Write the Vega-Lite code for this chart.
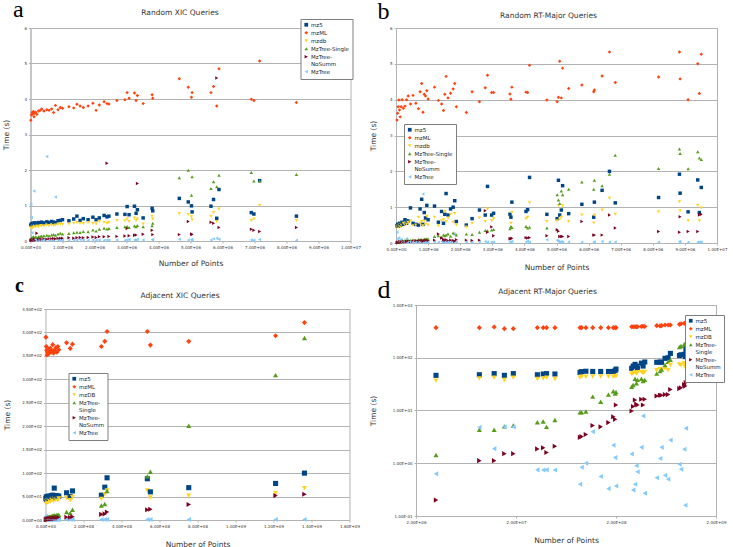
{
 "$schema": "https://vega.github.io/schema/vega-lite/v6.json",
 "background": "white",
 "padding": {"left": 1.5, "top": -4, "right": 0, "bottom": 0},
 "config": {
  "font": "DejaVu Sans",
  "view": {"stroke": "#b3b3b3", "strokeWidth": 1},
  "axis": {"labelFontSize": 4, "labelColor": "#333333", "titleFontSize": 7.5, "titleFontWeight": "normal", "titleColor": "#333333", "domainColor": "#b3b3b3", "tickColor": "#b3b3b3", "tickSize": 2, "gridColor": "#b3b3b3", "labelPadding": 2, "labelOverlap": false, "labelFlush": false},
  "legend": {"fillColor": "white", "strokeColor": "#7f7f7f", "padding": 3, "labelFontSize": 5.5, "labelColor": "#222222", "symbolSize": 14, "rowPadding": 1, "labelOffset": 2, "symbolStrokeWidth": 0, "cornerRadius": 0}
 },
 "datasets": {
  "a": [
   {"x":0.01e6,"mz5":0.45,"mzML":3.40,"mzdb":0.38,"MzTree-Single":0.05,"MzTree-NoSumm":0.02,"MzTree":1.03},
   {"x":0.03e6,"mz5":0.48,"mzML":3.55,"mzdb":0.40,"MzTree-Single":0.08,"MzTree-NoSumm":0.03,"MzTree":0.66},
   {"x":0.05e6,"mz5":0.46,"mzML":3.62,"mzdb":0.36,"MzTree-Single":0.10,"MzTree-NoSumm":0.02,"MzTree":0.23},
   {"x":0.07e6,"mz5":0.50,"mzML":3.58,"mzdb":0.42,"MzTree-Single":0.06,"MzTree-NoSumm":0.04,"MzTree":0.05},
   {"x":0.09e6,"mz5":0.47,"mzML":3.65,"mzdb":0.39,"MzTree-Single":0.12,"MzTree-NoSumm":0.03,"MzTree":0.03},
   {"x":0.11e6,"mz5":0.49,"mzML":3.50,"mzdb":0.41,"MzTree-Single":0.07,"MzTree-NoSumm":0.02,"MzTree":1.41},
   {"x":0.13e6,"mz5":0.51,"mzML":3.60,"mzdb":0.43,"MzTree-Single":0.09,"MzTree-NoSumm":0.05,"MzTree":0.02},
   {"x":0.16e6,"mz5":0.48,"mzML":3.63,"mzdb":0.40,"MzTree-Single":0.11,"MzTree-NoSumm":0.03,"MzTree":0.04},
   {"x":0.20e6,"mz5":0.50,"mzML":3.57,"mzdb":0.42,"MzTree-Single":0.10,"MzTree-NoSumm":0.22,"MzTree":0.03},
   {"x":0.25e6,"mz5":0.52,"mzML":3.66,"mzdb":0.41,"MzTree-Single":0.12,"MzTree-NoSumm":0.04,"MzTree":0.02},
   {"x":0.30e6,"mz5":0.50,"mzML":3.68,"mzdb":0.43,"MzTree-Single":0.13,"MzTree-NoSumm":0.05,"MzTree":0.03},
   {"x":0.35e6,"mz5":0.53,"mzML":3.72,"mzdb":0.44,"MzTree-Single":0.14,"MzTree-NoSumm":0.04,"MzTree":0.02},
   {"x":0.42e6,"mz5":0.51,"mzML":3.66,"mzdb":0.42,"MzTree-Single":0.15,"MzTree-NoSumm":0.06,"MzTree":0.03},
   {"x":0.51e6,"mz5":0.54,"mzML":3.70,"mzdb":0.45,"MzTree-Single":0.16,"MzTree-NoSumm":0.05,"MzTree":2.38},
   {"x":0.58e6,"mz5":0.52,"mzML":3.68,"mzdb":0.43,"MzTree-Single":0.15,"MzTree-NoSumm":0.06,"MzTree":0.02},
   {"x":0.66e6,"mz5":0.55,"mzML":3.72,"mzdb":0.46,"MzTree-Single":0.17,"MzTree-NoSumm":0.06,"MzTree":0.03},
   {"x":0.72e6,"mz5":0.53,"mzML":3.62,"mzdb":0.44,"MzTree-Single":0.18,"MzTree-NoSumm":0.07,"MzTree":0.02},
   {"x":0.78e6,"mz5":0.52,"mzML":3.82,"mzdb":0.45,"MzTree-Single":0.16,"MzTree-NoSumm":0.06,"MzTree":1.24},
   {"x":0.86e6,"mz5":0.57,"mzML":3.70,"mzdb":0.47,"MzTree-Single":0.20,"MzTree-NoSumm":0.07,"MzTree":0.03},
   {"x":0.93e6,"mz5":0.58,"mzML":3.76,"mzdb":0.48,"MzTree-Single":0.22,"MzTree-NoSumm":0.08,"MzTree":0.02},
   {"x":1.00e6,"mz5":0.60,"mzML":3.74,"mzdb":0.47,"MzTree-Single":0.20,"MzTree-NoSumm":0.08,"MzTree":0.03},
   {"x":1.20e6,"mz5":0.57,"mzML":3.78,"mzdb":0.48,"MzTree-Single":0.21,"MzTree-NoSumm":0.09,"MzTree":0.02},
   {"x":1.35e6,"mz5":0.62,"mzML":3.75,"mzdb":0.50,"MzTree-Single":0.23,"MzTree-NoSumm":0.08,"MzTree":0.03},
   {"x":1.45e6,"mz5":0.70,"mzML":3.85,"mzdb":0.52,"MzTree-Single":0.25,"MzTree-NoSumm":0.09,"MzTree":0.02},
   {"x":1.55e6,"mz5":0.58,"mzML":3.80,"mzdb":0.50,"MzTree-Single":0.24,"MzTree-NoSumm":0.10,"MzTree":0.04},
   {"x":1.65e6,"mz5":0.63,"mzML":3.76,"mzdb":0.49,"MzTree-Single":0.27,"MzTree-NoSumm":0.09,"MzTree":0.03},
   {"x":1.80e6,"mz5":0.60,"mzML":3.80,"mzdb":0.52,"MzTree-Single":0.26,"MzTree-NoSumm":0.10,"MzTree":0.02},
   {"x":1.95e6,"mz5":0.67,"mzML":3.88,"mzdb":0.50,"MzTree-Single":0.31,"MzTree-NoSumm":0.11,"MzTree":0.03},
   {"x":2.05e6,"mz5":0.60,"mzML":3.68,"mzdb":0.48,"MzTree-Single":0.28,"MzTree-NoSumm":0.10,"MzTree":0.02},
   {"x":2.15e6,"mz5":0.65,"mzML":3.83,"mzdb":0.55,"MzTree-Single":0.33,"MzTree-NoSumm":0.12,"MzTree":0.03},
   {"x":2.30e6,"mz5":0.72,"mzML":3.92,"mzdb":0.53,"MzTree-Single":0.36,"MzTree-NoSumm":0.12,"MzTree":0.02},
   {"x":2.39e6,"mz5":0.68,"mzML":3.87,"mzdb":0.50,"MzTree-Single":0.34,"MzTree-NoSumm":2.19,"MzTree":0.03},
   {"x":2.45e6,"mz5":0.70,"mzML":3.86,"mzdb":0.52,"MzTree-Single":0.35,"MzTree-NoSumm":0.13,"MzTree":0.02},
   {"x":2.70e6,"mz5":0.76,"mzML":3.96,"mzdb":0.58,"MzTree-Single":0.38,"MzTree-NoSumm":0.13,"MzTree":0.03},
   {"x":2.95e6,"mz5":0.75,"mzML":3.98,"mzdb":0.57,"MzTree-Single":0.40,"MzTree-NoSumm":0.14,"MzTree":0.02},
   {"x":3.02e6,"mz5":0.97,"mzML":4.18,"mzdb":0.62,"MzTree-Single":0.41,"MzTree-NoSumm":0.35,"MzTree":0.03},
   {"x":3.08e6,"mz5":0.74,"mzML":4.02,"mzdb":0.55,"MzTree-Single":0.38,"MzTree-NoSumm":0.15,"MzTree":0.04},
   {"x":3.25e6,"mz5":0.98,"mzML":4.17,"mzdb":0.65,"MzTree-Single":0.42,"MzTree-NoSumm":0.16,"MzTree":0.03},
   {"x":3.30e6,"mz5":0.78,"mzML":3.96,"mzdb":0.58,"MzTree-Single":0.40,"MzTree-NoSumm":0.17,"MzTree":0.02},
   {"x":3.34e6,"mz5":0.88,"mzML":4.10,"mzdb":0.62,"MzTree-Single":0.44,"MzTree-NoSumm":1.62,"MzTree":0.05},
   {"x":3.52e6,"mz5":0.65,"mzML":3.87,"mzdb":0.48,"MzTree-Single":0.40,"MzTree-NoSumm":0.19,"MzTree":0.03},
   {"x":3.80e6,"mz5":0.92,"mzML":4.12,"mzdb":0.70,"MzTree-Single":0.43,"MzTree-NoSumm":0.30,"MzTree":0.04},
   {"x":3.82e6,"mz5":0.85,"mzML":4.02,"mzdb":0.62,"MzTree-Single":0.50,"MzTree-NoSumm":0.18,"MzTree":0.03},
   {"x":4.65e6,"mz5":1.20,"mzML":4.57,"mzdb":0.77,"MzTree-Single":1.78,"MzTree-NoSumm":0.18,"MzTree":0.05},
   {"x":4.93e6,"mz5":1.10,"mzML":4.33,"mzdb":0.75,"MzTree-Single":1.99,"MzTree-NoSumm":0.55,"MzTree":0.03},
   {"x":5.03e6,"mz5":0.99,"mzML":4.05,"mzdb":0.68,"MzTree-Single":1.29,"MzTree-NoSumm":0.20,"MzTree":0.04},
   {"x":5.05e6,"mz5":0.82,"mzML":4.18,"mzdb":0.60,"MzTree-Single":1.81,"MzTree-NoSumm":0.18,"MzTree":0.02},
   {"x":5.64e6,"mz5":0.98,"mzML":4.18,"mzdb":0.70,"MzTree-Single":1.48,"MzTree-NoSumm":0.53,"MzTree":0.03},
   {"x":5.72e6,"mz5":1.17,"mzML":4.35,"mzdb":0.80,"MzTree-Single":1.67,"MzTree-NoSumm":0.50,"MzTree":0.06},
   {"x":5.82e6,"mz5":0.64,"mzML":3.80,"mzdb":0.55,"MzTree-Single":1.53,"MzTree-NoSumm":4.59,"MzTree":0.08},
   {"x":5.89e6,"mz5":1.45,"mzML":4.85,"mzdb":0.90,"MzTree-Single":1.85,"MzTree-NoSumm":0.38,"MzTree":0.05},
   {"x":6.90e6,"mz5":0.80,"mzML":3.99,"mzdb":0.58,"MzTree-Single":1.93,"MzTree-NoSumm":0.33,"MzTree":0.03},
   {"x":6.98e6,"mz5":0.76,"mzML":3.96,"mzdb":0.62,"MzTree-Single":1.69,"MzTree-NoSumm":0.30,"MzTree":0.02},
   {"x":7.16e6,"mz5":1.70,"mzML":5.07,"mzdb":1.00,"MzTree-Single":1.69,"MzTree-NoSumm":0.27,"MzTree":0.04},
   {"x":8.31e6,"mz5":0.70,"mzML":3.90,"mzdb":0.58,"MzTree-Single":1.87,"MzTree-NoSumm":0.38,"MzTree":0.02}
  ],
  "b": [
   {"x":0.03e6,"mz5":0.48,"mzML":3.43,"mzdb":0.45,"MzTree-Single":0.02,"MzTree-NoSumm":0.01,"MzTree":0.30},
   {"x":0.05e6,"mz5":0.52,"mzML":3.62,"mzdb":0.47,"MzTree-Single":0.03,"MzTree-NoSumm":0.02,"MzTree":0.12},
   {"x":0.07e6,"mz5":0.47,"mzML":3.80,"mzdb":0.44,"MzTree-Single":0.02,"MzTree-NoSumm":0.01,"MzTree":0.05},
   {"x":0.09e6,"mz5":0.50,"mzML":3.99,"mzdb":0.48,"MzTree-Single":0.04,"MzTree-NoSumm":0.02,"MzTree":0.15},
   {"x":0.11e6,"mz5":0.55,"mzML":3.71,"mzdb":0.50,"MzTree-Single":0.03,"MzTree-NoSumm":0.03,"MzTree":0.03},
   {"x":0.13e6,"mz5":0.49,"mzML":3.52,"mzdb":0.46,"MzTree-Single":0.05,"MzTree-NoSumm":0.02,"MzTree":0.04},
   {"x":0.16e6,"mz5":0.53,"mzML":3.80,"mzdb":0.52,"MzTree-Single":0.04,"MzTree-NoSumm":0.03,"MzTree":0.10},
   {"x":0.19e6,"mz5":0.58,"mzML":4.00,"mzdb":0.48,"MzTree-Single":0.06,"MzTree-NoSumm":0.02,"MzTree":0.02},
   {"x":0.23e6,"mz5":0.52,"mzML":3.76,"mzdb":0.55,"MzTree-Single":0.05,"MzTree-NoSumm":0.04,"MzTree":0.05},
   {"x":0.28e6,"mz5":0.65,"mzML":3.82,"mzdb":0.50,"MzTree-Single":0.07,"MzTree-NoSumm":0.03,"MzTree":0.03},
   {"x":0.33e6,"mz5":0.55,"mzML":4.00,"mzdb":0.53,"MzTree-Single":0.06,"MzTree-NoSumm":0.04,"MzTree":0.12},
   {"x":0.38e6,"mz5":0.62,"mzML":4.10,"mzdb":0.58,"MzTree-Single":0.08,"MzTree-NoSumm":0.05,"MzTree":0.02},
   {"x":0.45e6,"mz5":0.98,"mzML":3.88,"mzdb":0.62,"MzTree-Single":0.07,"MzTree-NoSumm":0.04,"MzTree":0.04},
   {"x":0.53e6,"mz5":0.55,"mzML":4.12,"mzdb":0.48,"MzTree-Single":0.09,"MzTree-NoSumm":0.05,"MzTree":0.03},
   {"x":0.62e6,"mz5":0.52,"mzML":3.90,"mzdb":0.50,"MzTree-Single":0.08,"MzTree-NoSumm":0.06,"MzTree":0.02},
   {"x":0.70e6,"mz5":0.50,"mzML":3.75,"mzdb":0.72,"MzTree-Single":0.10,"MzTree-NoSumm":0.05,"MzTree":0.03},
   {"x":0.75e6,"mz5":0.95,"mzML":4.22,"mzdb":0.55,"MzTree-Single":0.09,"MzTree-NoSumm":0.06,"MzTree":0.04},
   {"x":0.80e6,"mz5":1.22,"mzML":4.45,"mzdb":0.60,"MzTree-Single":0.10,"MzTree-NoSumm":0.07,"MzTree":0.03},
   {"x":0.84e6,"mz5":0.52,"mzML":3.65,"mzdb":0.48,"MzTree-Single":0.08,"MzTree-NoSumm":0.05,"MzTree":1.37},
   {"x":0.88e6,"mz5":0.85,"mzML":4.15,"mzdb":0.62,"MzTree-Single":0.11,"MzTree-NoSumm":0.06,"MzTree":0.02},
   {"x":0.92e6,"mz5":0.70,"mzML":4.10,"mzdb":0.52,"MzTree-Single":0.10,"MzTree-NoSumm":0.07,"MzTree":0.03},
   {"x":0.96e6,"mz5":1.05,"mzML":4.25,"mzdb":0.75,"MzTree-Single":0.12,"MzTree-NoSumm":0.08,"MzTree":0.04},
   {"x":1.00e6,"mz5":0.65,"mzML":4.02,"mzdb":0.50,"MzTree-Single":0.11,"MzTree-NoSumm":0.06,"MzTree":0.02},
   {"x":1.20e6,"mz5":1.03,"mzML":4.35,"mzdb":0.72,"MzTree-Single":0.18,"MzTree-NoSumm":0.08,"MzTree":0.03},
   {"x":1.32e6,"mz5":0.58,"mzML":3.98,"mzdb":0.48,"MzTree-Single":0.20,"MzTree-NoSumm":0.25,"MzTree":0.02},
   {"x":1.42e6,"mz5":0.88,"mzML":3.88,"mzdb":0.62,"MzTree-Single":0.16,"MzTree-NoSumm":0.14,"MzTree":0.04},
   {"x":1.48e6,"mz5":0.55,"mzML":3.70,"mzdb":0.65,"MzTree-Single":0.22,"MzTree-NoSumm":0.10,"MzTree":0.03},
   {"x":1.52e6,"mz5":0.80,"mzML":4.15,"mzdb":0.88,"MzTree-Single":0.20,"MzTree-NoSumm":0.07,"MzTree":0.02},
   {"x":1.56e6,"mz5":1.38,"mzML":4.65,"mzdb":0.60,"MzTree-Single":0.22,"MzTree-NoSumm":0.09,"MzTree":0.04},
   {"x":1.62e6,"mz5":0.78,"mzML":4.05,"mzdb":0.70,"MzTree-Single":0.25,"MzTree-NoSumm":0.06,"MzTree":0.03},
   {"x":1.70e6,"mz5":0.95,"mzML":4.18,"mzdb":0.80,"MzTree-Single":0.19,"MzTree-NoSumm":0.08,"MzTree":0.02},
   {"x":1.78e6,"mz5":1.00,"mzML":4.30,"mzdb":0.58,"MzTree-Single":0.28,"MzTree-NoSumm":0.07,"MzTree":0.03},
   {"x":1.83e6,"mz5":1.18,"mzML":4.45,"mzdb":0.82,"MzTree-Single":0.26,"MzTree-NoSumm":0.05,"MzTree":0.25},
   {"x":1.88e6,"mz5":0.60,"mzML":3.80,"mzdb":0.50,"MzTree-Single":0.22,"MzTree-NoSumm":0.09,"MzTree":0.02},
   {"x":2.19e6,"mz5":0.50,"mzML":3.64,"mzdb":0.45,"MzTree-Single":0.25,"MzTree-NoSumm":0.08,"MzTree":0.03},
   {"x":2.37e6,"mz5":0.68,"mzML":4.22,"mzdb":0.55,"MzTree-Single":0.24,"MzTree-NoSumm":0.07,"MzTree":0.02},
   {"x":2.60e6,"mz5":0.92,"mzML":3.94,"mzdb":0.70,"MzTree-Single":0.30,"MzTree-NoSumm":0.08,"MzTree":0.03},
   {"x":2.78e6,"mz5":0.78,"mzML":4.33,"mzdb":0.60,"MzTree-Single":0.35,"MzTree-NoSumm":0.90,"MzTree":0.04},
   {"x":2.85e6,"mz5":1.58,"mzML":4.68,"mzdb":0.95,"MzTree-Single":0.34,"MzTree-NoSumm":0.30,"MzTree":0.02},
   {"x":2.98e6,"mz5":0.78,"mzML":4.20,"mzdb":0.62,"MzTree-Single":0.36,"MzTree-NoSumm":0.45,"MzTree":0.03},
   {"x":3.04e6,"mz5":0.83,"mzML":4.20,"mzdb":0.68,"MzTree-Single":0.38,"MzTree-NoSumm":0.20,"MzTree":0.02},
   {"x":3.55e6,"mz5":0.80,"mzML":4.16,"mzdb":0.72,"MzTree-Single":0.40,"MzTree-NoSumm":0.12,"MzTree":0.03},
   {"x":3.58e6,"mz5":0.72,"mzML":4.01,"mzdb":0.55,"MzTree-Single":0.46,"MzTree-NoSumm":0.12,"MzTree":0.02},
   {"x":3.61e6,"mz5":1.14,"mzML":4.35,"mzdb":0.85,"MzTree-Single":0.43,"MzTree-NoSumm":0.13,"MzTree":0.04},
   {"x":4.05e6,"mz5":0.88,"mzML":4.21,"mzdb":0.68,"MzTree-Single":0.46,"MzTree-NoSumm":0.15,"MzTree":0.03},
   {"x":4.10e6,"mz5":0.93,"mzML":4.20,"mzdb":0.72,"MzTree-Single":0.42,"MzTree-NoSumm":0.14,"MzTree":0.05},
   {"x":4.16e6,"mz5":1.83,"mzML":4.96,"mzdb":1.12,"MzTree-Single":0.44,"MzTree-NoSumm":0.15,"MzTree":0.02},
   {"x":4.70e6,"mz5":0.80,"mzML":3.99,"mzdb":0.60,"MzTree-Single":0.42,"MzTree-NoSumm":0.20,"MzTree":0.09},
   {"x":5.02e6,"mz5":0.68,"mzML":3.94,"mzdb":0.62,"MzTree-Single":1.35,"MzTree-NoSumm":0.37,"MzTree":0.08},
   {"x":5.06e6,"mz5":1.75,"mzML":4.07,"mzdb":1.05,"MzTree-Single":1.20,"MzTree-NoSumm":0.33,"MzTree":0.05},
   {"x":5.10e6,"mz5":0.78,"mzML":5.07,"mzdb":0.66,"MzTree-Single":1.10,"MzTree-NoSumm":0.18,"MzTree":0.02},
   {"x":5.15e6,"mz5":0.92,"mzML":4.05,"mzdb":0.72,"MzTree-Single":1.45,"MzTree-NoSumm":0.18,"MzTree":0.04},
   {"x":5.19e6,"mz5":1.60,"mzML":4.88,"mzdb":1.04,"MzTree-Single":1.35,"MzTree-NoSumm":0.18,"MzTree":0.02},
   {"x":5.38e6,"mz5":0.82,"mzML":4.31,"mzdb":0.60,"MzTree-Single":1.50,"MzTree-NoSumm":0.18,"MzTree":0.03},
   {"x":5.79e6,"mz5":1.08,"mzML":4.41,"mzdb":0.78,"MzTree-Single":1.70,"MzTree-NoSumm":0.60,"MzTree":0.02},
   {"x":6.16e6,"mz5":0.72,"mzML":4.22,"mzdb":0.56,"MzTree-Single":1.50,"MzTree-NoSumm":0.22,"MzTree":0.03},
   {"x":6.18e6,"mz5":1.14,"mzML":4.27,"mzdb":0.78,"MzTree-Single":1.75,"MzTree-NoSumm":0.22,"MzTree":0.02},
   {"x":6.42e6,"mz5":1.47,"mzML":4.66,"mzdb":0.92,"MzTree-Single":1.60,"MzTree-NoSumm":0.22,"MzTree":0.04},
   {"x":6.65e6,"mz5":2.00,"mzML":5.33,"mzdb":1.25,"MzTree-Single":1.92,"MzTree-NoSumm":0.78,"MzTree":0.02},
   {"x":6.83e6,"mz5":1.12,"mzML":4.48,"mzdb":0.80,"MzTree-Single":2.45,"MzTree-NoSumm":0.42,"MzTree":0.03},
   {"x":8.18e6,"mz5":1.27,"mzML":4.63,"mzdb":0.87,"MzTree-Single":2.08,"MzTree-NoSumm":0.32,"MzTree":0.02},
   {"x":8.83e6,"mz5":1.92,"mzML":5.33,"mzdb":1.15,"MzTree-Single":2.62,"MzTree-NoSumm":0.30,"MzTree":0.04},
   {"x":8.85e6,"mz5":1.39,"mzML":4.58,"mzdb":0.90,"MzTree-Single":2.50,"MzTree-NoSumm":0.73,"MzTree":0.02},
   {"x":9.10e6,"mz5":0.87,"mzML":4.00,"mzdb":0.62,"MzTree-Single":2.07,"MzTree-NoSumm":0.32,"MzTree":0.02},
   {"x":9.40e6,"mz5":1.76,"mzML":5.00,"mzdb":1.05,"MzTree-Single":2.55,"MzTree-NoSumm":0.32,"MzTree":0.03},
   {"x":9.45e6,"mz5":0.85,"mzML":4.17,"mzdb":0.62,"MzTree-Single":2.37,"MzTree-NoSumm":0.78,"MzTree":0.02},
   {"x":9.51e6,"mz5":1.55,"mzML":5.27,"mzdb":0.98,"MzTree-Single":2.33,"MzTree-NoSumm":0.80,"MzTree":0.03}
  ],
  "c": [
   {"x":0.02e8,"mz5":46,"mzML":390,"mzDB":36,"MzTree-Single":2,"MzTree-NoSumm":1,"MzTree":8},
   {"x":0.04e8,"mz5":49,"mzML":370,"mzDB":38,"MzTree-Single":3,"MzTree-NoSumm":1,"MzTree":1},
   {"x":0.06e8,"mz5":44,"mzML":362,"mzDB":40,"MzTree-Single":4,"MzTree-NoSumm":2,"MzTree":5},
   {"x":0.08e8,"mz5":50,"mzML":352,"mzDB":41,"MzTree-Single":3,"MzTree-NoSumm":1,"MzTree":1},
   {"x":0.10e8,"mz5":47,"mzML":358,"mzDB":37,"MzTree-Single":5,"MzTree-NoSumm":2,"MzTree":1},
   {"x":0.12e8,"mz5":48,"mzML":365,"mzDB":42,"MzTree-Single":4,"MzTree-NoSumm":2,"MzTree":2},
   {"x":0.15e8,"mz5":51,"mzML":360,"mzDB":39,"MzTree-Single":6,"MzTree-NoSumm":2,"MzTree":1},
   {"x":0.18e8,"mz5":46,"mzML":355,"mzDB":43,"MzTree-Single":5,"MzTree-NoSumm":3,"MzTree":1},
   {"x":0.22e8,"mz5":50,"mzML":362,"mzDB":41,"MzTree-Single":7,"MzTree-NoSumm":2,"MzTree":1},
   {"x":0.26e8,"mz5":49,"mzML":366,"mzDB":40,"MzTree-Single":6,"MzTree-NoSumm":3,"MzTree":1},
   {"x":0.30e8,"mz5":52,"mzML":360,"mzDB":44,"MzTree-Single":8,"MzTree-NoSumm":3,"MzTree":1},
   {"x":0.34e8,"mz5":48,"mzML":358,"mzDB":42,"MzTree-Single":7,"MzTree-NoSumm":3,"MzTree":1},
   {"x":0.38e8,"mz5":53,"mzML":374,"mzDB":45,"MzTree-Single":9,"MzTree-NoSumm":4,"MzTree":1},
   {"x":0.42e8,"mz5":50,"mzML":356,"mzDB":41,"MzTree-Single":8,"MzTree-NoSumm":3,"MzTree":1},
   {"x":0.46e8,"mz5":68,"mzML":362,"mzDB":46,"MzTree-Single":10,"MzTree-NoSumm":4,"MzTree":1},
   {"x":0.50e8,"mz5":51,"mzML":360,"mzDB":43,"MzTree-Single":9,"MzTree-NoSumm":4,"MzTree":1},
   {"x":0.55e8,"mz5":49,"mzML":368,"mzDB":44,"MzTree-Single":8,"MzTree-NoSumm":4,"MzTree":1},
   {"x":0.60e8,"mz5":52,"mzML":358,"mzDB":45,"MzTree-Single":11,"MzTree-NoSumm":5,"MzTree":1},
   {"x":0.65e8,"mz5":50,"mzML":370,"mzDB":42,"MzTree-Single":10,"MzTree-NoSumm":4,"MzTree":1},
   {"x":0.70e8,"mz5":51,"mzML":363,"mzDB":46,"MzTree-Single":11,"MzTree-NoSumm":5,"MzTree":1},
   {"x":1.11e8,"mz5":58,"mzML":378,"mzDB":47,"MzTree-Single":17,"MzTree-NoSumm":6,"MzTree":1},
   {"x":1.30e8,"mz5":50,"mzML":366,"mzDB":42,"MzTree-Single":15,"MzTree-NoSumm":5,"MzTree":1},
   {"x":1.42e8,"mz5":62,"mzML":375,"mzDB":49,"MzTree-Single":22,"MzTree-NoSumm":7,"MzTree":1},
   {"x":2.94e8,"mz5":53,"mzML":370,"mzDB":45,"MzTree-Single":31,"MzTree-NoSumm":12,"MzTree":1},
   {"x":3.12e8,"mz5":70,"mzML":381,"mzDB":55,"MzTree-Single":34,"MzTree-NoSumm":13,"MzTree":1},
   {"x":3.24e8,"mz5":90,"mzML":402,"mzDB":63,"MzTree-Single":62,"MzTree-NoSumm":17,"MzTree":1},
   {"x":5.36e8,"mz5":88,"mzML":402,"mzDB":63,"MzTree-Single":93,"MzTree-NoSumm":22,"MzTree":1},
   {"x":5.52e8,"mz5":60,"mzML":373,"mzDB":48,"MzTree-Single":103,"MzTree-NoSumm":23,"MzTree":1},
   {"x":7.54e8,"mz5":69,"mzML":381,"mzDB":52,"MzTree-Single":201,"MzTree-NoSumm":33,"MzTree":1},
   {"x":12.11e8,"mz5":78,"mzML":393,"mzDB":57,"MzTree-Single":309,"MzTree-NoSumm":52,"MzTree":1},
   {"x":13.63e8,"mz5":100,"mzML":421,"mzDB":68,"MzTree-Single":388,"MzTree-NoSumm":55,"MzTree":1}
  ],
  "d": [
   {"x":3.17e6,"mz5":46.4,"mzML":372,"mzDB":36.8,"MzTree-Single":1.43,"MzTree-NoSumm":0.20,"MzTree":0.63},
   {"x":8.6e6,"mz5":47.6,"mzML":372,"mzDB":40.6,"MzTree-Single":4.33,"MzTree-NoSumm":1.12,"MzTree":4.8},
   {"x":12.1e6,"mz5":50,"mzML":383,"mzDB":42,"MzTree-Single":4.33,"MzTree-NoSumm":1.12,"MzTree":1.89},
   {"x":15.3e6,"mz5":46.4,"mzML":356,"mzDB":37.9,"MzTree-Single":5.0,"MzTree-NoSumm":1.52,"MzTree":4.9},
   {"x":18.8e6,"mz5":50,"mzML":356,"mzDB":42,"MzTree-Single":5.18,"MzTree-NoSumm":1.52,"MzTree":4.9},
   {"x":32.7e6,"mz5":47.6,"mzML":372,"mzDB":39.5,"MzTree-Single":6.0,"MzTree-NoSumm":1.87,"MzTree":0.75},
   {"x":37.4e6,"mz5":49.2,"mzML":372,"mzDB":40.6,"MzTree-Single":6.2,"MzTree-NoSumm":1.96,"MzTree":0.745},
   {"x":40.4e6,"mz5":50,"mzML":372,"mzDB":42,"MzTree-Single":4.9,"MzTree-NoSumm":1.6,"MzTree":0.75},
   {"x":49e6,"mz5":49.2,"mzML":372,"mzDB":39.5,"MzTree-Single":6.6,"MzTree-NoSumm":2.1,"MzTree":0.745},
   {"x":87.3e6,"mz5":52.9,"mzML":372,"mzDB":42,"MzTree-Single":9.2,"MzTree-NoSumm":3.1,"MzTree":0.4},
   {"x":90.6e6,"mz5":54.6,"mzML":372,"mzDB":43.8,"MzTree-Single":9.2,"MzTree-NoSumm":3.2,"MzTree":0.84},
   {"x":100e6,"mz5":55.5,"mzML":372,"mzDB":43.5,"MzTree-Single":9.6,"MzTree-NoSumm":3.5,"MzTree":1.0},
   {"x":117e6,"mz5":55,"mzML":372,"mzDB":44,"MzTree-Single":18.3,"MzTree-NoSumm":5.18,"MzTree":3.97},
   {"x":140.6e6,"mz5":55,"mzML":372,"mzDB":44,"MzTree-Single":14.6,"MzTree-NoSumm":4.9,"MzTree":0.56},
   {"x":168e6,"mz5":55,"mzML":372,"mzDB":44,"MzTree-Single":20,"MzTree-NoSumm":5.9,"MzTree":0.33},
   {"x":188e6,"mz5":55,"mzML":372,"mzDB":43.5,"MzTree-Single":23.2,"MzTree-NoSumm":7.6,"MzTree":2.2},
   {"x":196e6,"mz5":57,"mzML":372,"mzDB":44.5,"MzTree-Single":21,"MzTree-NoSumm":6.8,"MzTree":1.28},
   {"x":200e6,"mz5":61,"mzML":372,"mzDB":45,"MzTree-Single":22.5,"MzTree-NoSumm":12.7,"MzTree":0.37},
   {"x":287e6,"mz5":63,"mzML":388,"mzDB":49.3,"MzTree-Single":28.2,"MzTree-NoSumm":9.8,"MzTree":1.5},
   {"x":297e6,"mz5":69.6,"mzML":388,"mzDB":51,"MzTree-Single":30.5,"MzTree-NoSumm":11.9,"MzTree":0.31},
   {"x":310e6,"mz5":75,"mzML":388,"mzDB":53,"MzTree-Single":40,"MzTree-NoSumm":15.8,"MzTree":0.4},
   {"x":320e6,"mz5":69.6,"mzML":388,"mzDB":50,"MzTree-Single":32.9,"MzTree-NoSumm":13.2,"MzTree":0.9},
   {"x":328e6,"mz5":63,"mzML":388,"mzDB":53,"MzTree-Single":38,"MzTree-NoSumm":12.7,"MzTree":0.69},
   {"x":359e6,"mz5":79,"mzML":392,"mzDB":54,"MzTree-Single":40,"MzTree-NoSumm":16.3,"MzTree":2.0},
   {"x":373e6,"mz5":69.6,"mzML":395,"mzDB":51,"MzTree-Single":36,"MzTree-NoSumm":12.7,"MzTree":7.9},
   {"x":388e6,"mz5":83,"mzML":392,"mzDB":54,"MzTree-Single":38,"MzTree-NoSumm":16.3,"MzTree":0.27},
   {"x":511e6,"mz5":82,"mzML":406,"mzDB":58,"MzTree-Single":50,"MzTree-NoSumm":18.8,"MzTree":0.53},
   {"x":552e6,"mz5":83,"mzML":402,"mzDB":60.5,"MzTree-Single":55.8,"MzTree-NoSumm":19.4,"MzTree":1.23},
   {"x":571e6,"mz5":82,"mzML":406,"mzDB":58,"MzTree-Single":60,"MzTree-NoSumm":19.4,"MzTree":2.0},
   {"x":618e6,"mz5":97.4,"mzML":417,"mzDB":63.1,"MzTree-Single":73,"MzTree-NoSumm":20,"MzTree":0.59},
   {"x":663e6,"mz5":100,"mzML":417,"mzDB":58,"MzTree-Single":84,"MzTree-NoSumm":20,"MzTree":0.5},
   {"x":700e6,"mz5":121,"mzML":417,"mzDB":73,"MzTree-Single":91,"MzTree-NoSumm":25,"MzTree":2.75},
   {"x":862e6,"mz5":110,"mzML":430,"mzDB":75,"MzTree-Single":160,"MzTree-NoSumm":26,"MzTree":0.96},
   {"x":894e6,"mz5":114,"mzML":440,"mzDB":72,"MzTree-Single":167,"MzTree-NoSumm":27,"MzTree":0.77},
   {"x":963e6,"mz5":116,"mzML":449,"mzDB":79,"MzTree-Single":180,"MzTree-NoSumm":31,"MzTree":1.84},
   {"x":985e6,"mz5":105,"mzML":455,"mzDB":66,"MzTree-Single":175,"MzTree-NoSumm":29,"MzTree":0.16},
   {"x":1000e6,"mz5":144,"mzML":462,"mzDB":71,"MzTree-Single":196,"MzTree-NoSumm":34,"MzTree":4.6}
  ]
 },
 "columns": 2,
 "align": "none",
 "spacing": {"row": 4, "column": 6.5},
 "resolve": {"scale": {"color": "independent", "shape": "independent"}},
 "concat": [
  {
   "width": 320, "height": 213,
   "data": {"name": "a"},
   "transform": [{"fold": ["mz5", "mzML", "mzdb", "MzTree-Single", "MzTree-NoSumm", "MzTree"], "as": ["s", "y"]}],
   "layer": [
    {"mark": {"type": "point", "filled": true, "size": 12, "opacity": 1},
     "encoding": {
      "x": {"field": "x", "type": "quantitative", "scale": {"domain": [0, 10000000], "nice": false, "zero": false},
            "axis": {"values": [0, 1000000, 2000000, 3000000, 4000000, 5000000, 6000000, 7000000, 8000000, 9000000, 10000000], "labelExpr": "replace(replace(upper(format(datum.value, '.2e')), regexp('E[+]([0-9])$'), 'E+0$1'), regexp('E-([0-9])$'), 'E-0$1')", "title": "Number of Points", "grid": false, "titleBaseline": "alphabetic", "titleY": 24}},
      "y": {"field": "y", "type": "quantitative", "scale": {"domain": [0, 6], "nice": false},
            "axis": {"values": [0, 1, 2, 3, 4, 5, 6], "format": "d", "title": "Time (s)", "grid": true, "titleX": -20}},
      "color": {"field": "s", "type": "nominal", "scale": {"domain": ["mz5", "mzML", "mzdb", "MzTree-Single", "MzTree-NoSumm", "MzTree"], "range": ["#004586", "#ff420e", "#ffd320", "#579d1c", "#7e0021", "#83caff"]},
                "legend": {"orient": "none", "legendX": 270, "legendY": -9, "title": null, "labelExpr": "datum.label == 'MzTree-NoSumm' ? ['MzTree-', 'NoSumm'] : datum.label"}},
      "shape": {"field": "s", "type": "nominal", "scale": {"domain": ["mz5", "mzML", "mzdb", "MzTree-Single", "MzTree-NoSumm", "MzTree"], "range": ["square", "diamond", "triangle-down", "triangle-up", "triangle-right", "triangle-left"]},
                "legend": {"orient": "none", "legendX": 270, "legendY": -9, "title": null, "labelExpr": "datum.label == 'MzTree-NoSumm' ? ['MzTree-', 'NoSumm'] : datum.label"}}
     }},
    {"mark": {"type": "point", "opacity": 0},
     "encoding": {
      "x": {"field": "x", "type": "quantitative", "axis": {"orient": "top", "labels": false, "ticks": false, "domain": false, "grid": false, "title": "Random XIC Queries", "titleX": 149, "titleY": -14, "titleAlign": "center", "titleBaseline": "alphabetic"}},
      "y": {"field": "y", "type": "quantitative", "axis": {"orient": "right", "labels": false, "ticks": false, "domain": false, "grid": false, "title": "a", "titleAngle": 0, "titleX": -338, "titleY": -12, "titleAlign": "left", "titleBaseline": "alphabetic", "titleFont": "Liberation Serif", "titleFontSize": 24, "titleColor": "black", "titleFontWeight": "normal"}}
     }}
   ],
   "resolve": {"axis": {"x": "independent", "y": "independent"}}
  },
  {
   "width": 321, "height": 215,
   "data": {"name": "b"},
   "transform": [{"fold": ["mz5", "mzML", "mzdb", "MzTree-Single", "MzTree-NoSumm", "MzTree"], "as": ["s", "y"]}],
   "layer": [
    {"mark": {"type": "point", "filled": true, "size": 12, "opacity": 1},
     "encoding": {
      "x": {"field": "x", "type": "quantitative", "scale": {"domain": [0, 10000000], "nice": false, "zero": false},
            "axis": {"values": [0, 1000000, 2000000, 3000000, 4000000, 5000000, 6000000, 7000000, 8000000, 9000000, 10000000], "labelExpr": "replace(replace(upper(format(datum.value, '.2e')), regexp('E[+]([0-9])$'), 'E+0$1'), regexp('E-([0-9])$'), 'E-0$1')", "title": "Number of Points", "grid": false, "titleBaseline": "alphabetic", "titleY": 26}},
      "y": {"field": "y", "type": "quantitative", "scale": {"domain": [0, 6], "nice": false},
            "axis": {"values": [0, 1, 2, 3, 4, 5, 6], "format": "d", "title": "Time (s)", "grid": true, "titleX": -19}},
      "color": {"field": "s", "type": "nominal", "scale": {"domain": ["mz5", "mzML", "mzdb", "MzTree-Single", "MzTree-NoSumm", "MzTree"], "range": ["#004586", "#ff420e", "#ffd320", "#579d1c", "#7e0021", "#83caff"]},
                "legend": {"orient": "none", "legendX": 8, "legendY": 96, "title": null, "labelExpr": "datum.label == 'MzTree-NoSumm' ? ['MzTree-', 'NoSumm'] : datum.label"}},
      "shape": {"field": "s", "type": "nominal", "scale": {"domain": ["mz5", "mzML", "mzdb", "MzTree-Single", "MzTree-NoSumm", "MzTree"], "range": ["square", "diamond", "triangle-down", "triangle-up", "triangle-right", "triangle-left"]},
                "legend": {"orient": "none", "legendX": 8, "legendY": 96, "title": null, "labelExpr": "datum.label == 'MzTree-NoSumm' ? ['MzTree-', 'NoSumm'] : datum.label"}}
     }},
    {"mark": {"type": "point", "opacity": 0},
     "encoding": {
      "x": {"field": "x", "type": "quantitative", "axis": {"orient": "top", "labels": false, "ticks": false, "domain": false, "grid": false, "title": "Random RT-Major Queries", "titleX": 152, "titleY": -11, "titleAlign": "center", "titleBaseline": "alphabetic"}},
      "y": {"field": "y", "type": "quantitative", "axis": {"orient": "right", "labels": false, "ticks": false, "domain": false, "grid": false, "title": "b", "titleAngle": 0, "titleX": -340, "titleY": -10, "titleAlign": "left", "titleBaseline": "alphabetic", "titleFont": "Liberation Serif", "titleFontSize": 24, "titleColor": "black", "titleFontWeight": "normal"}}
     }}
   ],
   "resolve": {"axis": {"x": "independent", "y": "independent"}}
  },
  {
   "width": 319, "height": 211,
   "view": {"stroke": null},
   "data": {"name": "c"},
   "transform": [{"fold": ["mz5", "mzML", "mzDB", "MzTree-Single", "MzTree-NoSumm", "MzTree"], "as": ["s", "y"]}],
   "layer": [
    {"mark": {"type": "point", "filled": true, "size": 26, "opacity": 1},
     "encoding": {
      "x": {"field": "x", "type": "quantitative", "scale": {"domain": [0, 1600000000], "nice": false, "zero": false, "range": [15, 319]},
            "axis": {"values": [0, 200000000, 400000000, 600000000, 800000000, 1000000000, 1200000000, 1400000000, 1600000000], "labelExpr": "replace(replace(upper(format(datum.value, '.2e')), regexp('E[+]([0-9])$'), 'E+0$1'), regexp('E-([0-9])$'), 'E-0$1')", "title": "Number of Points", "grid": false, "titleBaseline": "alphabetic", "titleY": 26}},
      "y": {"field": "y", "type": "quantitative", "scale": {"domain": [0, 450], "nice": false},
            "axis": {"offset": -15, "values": [0, 50, 100, 150, 200, 250, 300, 350, 400, 450], "labelExpr": "replace(replace(upper(format(datum.value, '.2e')), regexp('E[+]([0-9])$'), 'E+0$1'), regexp('E-([0-9])$'), 'E-0$1')", "title": "Time (s)", "grid": true, "titleX": -34}},
      "color": {"field": "s", "type": "nominal", "scale": {"domain": ["mz5", "mzML", "mzDB", "MzTree-Single", "MzTree-NoSumm", "MzTree"], "range": ["#004586", "#ff420e", "#ffd320", "#579d1c", "#7e0021", "#83caff"]},
                "legend": {"orient": "none", "legendX": 38, "legendY": 64, "title": null, "labelExpr": "indexof(datum.label, 'MzTree-') == 0 ? ['MzTree-', substring(datum.label, 7)] : datum.label"}},
      "shape": {"field": "s", "type": "nominal", "scale": {"domain": ["mz5", "mzML", "mzDB", "MzTree-Single", "MzTree-NoSumm", "MzTree"], "range": ["square", "diamond", "triangle-down", "triangle-up", "triangle-right", "triangle-left"]},
                "legend": {"orient": "none", "legendX": 38, "legendY": 64, "title": null, "labelExpr": "indexof(datum.label, 'MzTree-') == 0 ? ['MzTree-', substring(datum.label, 7)] : datum.label"}}
     }},
    {"mark": {"type": "point", "opacity": 0},
     "encoding": {
      "x": {"field": "x", "type": "quantitative", "axis": {"orient": "top", "labels": false, "ticks": false, "domain": true, "grid": false, "title": "Adjacent XIC Queries", "titleX": 149, "titleY": -12, "titleAlign": "center", "titleBaseline": "alphabetic"}},
      "y": {"field": "y", "type": "quantitative", "axis": {"orient": "right", "labels": false, "ticks": false, "domain": true, "grid": false, "title": "c", "titleAngle": 0, "titleX": -335, "titleY": -18, "titleAlign": "left", "titleBaseline": "alphabetic", "titleFont": "Liberation Serif", "titleFontSize": 20, "titleColor": "black", "titleFontWeight": "bold"}}
     }}
   ],
   "resolve": {"axis": {"x": "independent", "y": "independent"}}
  },
  {
   "width": 300, "height": 211,
   "data": {"name": "d"},
   "transform": [{"fold": ["mz5", "mzML", "mzDB", "MzTree-Single", "MzTree-NoSumm", "MzTree"], "as": ["s", "y"]}],
   "layer": [
    {"mark": {"type": "point", "filled": true, "size": 26, "opacity": 1},
     "encoding": {
      "x": {"field": "x", "type": "quantitative", "scale": {"type": "log", "domain": [2000000, 2000000000], "nice": false},
            "axis": {"values": [2000000, 20000000, 200000000, 2000000000], "labelExpr": "replace(replace(upper(format(datum.value, '.2e')), regexp('E[+]([0-9])$'), 'E+0$1'), regexp('E-([0-9])$'), 'E-0$1')", "title": "Number of Points", "grid": false, "titleBaseline": "alphabetic", "titleY": 26}},
      "y": {"field": "y", "type": "quantitative", "scale": {"type": "log", "domain": [0.1, 1000], "nice": false},
            "axis": {"values": [0.1, 1, 10, 100, 1000], "labelExpr": "replace(replace(upper(format(datum.value, '.2e')), regexp('E[+]([0-9])$'), 'E+0$1'), regexp('E-([0-9])$'), 'E-0$1')", "title": "Time (s)", "grid": true, "titleX": -39}},
      "color": {"field": "s", "type": "nominal", "scale": {"domain": ["mz5", "mzML", "mzDB", "MzTree-Single", "MzTree-NoSumm", "MzTree"], "range": ["#004586", "#ff420e", "#ffd320", "#579d1c", "#7e0021", "#83caff"]},
                "legend": {"orient": "none", "legendX": 269, "legendY": 10, "title": null, "labelExpr": "indexof(datum.label, 'MzTree-') == 0 ? ['MzTree-', substring(datum.label, 7)] : datum.label"}},
      "shape": {"field": "s", "type": "nominal", "scale": {"domain": ["mz5", "mzML", "mzDB", "MzTree-Single", "MzTree-NoSumm", "MzTree"], "range": ["square", "diamond", "triangle-down", "triangle-up", "triangle-right", "triangle-left"]},
                "legend": {"orient": "none", "legendX": 269, "legendY": 10, "title": null, "labelExpr": "indexof(datum.label, 'MzTree-') == 0 ? ['MzTree-', substring(datum.label, 7)] : datum.label"}}
     }},
    {"mark": {"type": "point", "opacity": 0},
     "encoding": {
      "x": {"field": "x", "type": "quantitative", "axis": {"orient": "top", "labels": false, "ticks": false, "domain": false, "grid": false, "title": "Adjacent RT-Major Queries", "titleX": 131, "titleY": -12, "titleAlign": "center", "titleBaseline": "alphabetic"}},
      "y": {"field": "y", "type": "quantitative", "axis": {"orient": "right", "labels": false, "ticks": false, "domain": false, "grid": false, "title": "d", "titleAngle": 0, "titleX": -339, "titleY": -8, "titleAlign": "left", "titleBaseline": "alphabetic", "titleFont": "Liberation Serif", "titleFontSize": 26, "titleColor": "black", "titleFontWeight": "normal"}}
     }}
   ],
   "resolve": {"axis": {"x": "independent", "y": "independent"}}
  }
 ]
}
